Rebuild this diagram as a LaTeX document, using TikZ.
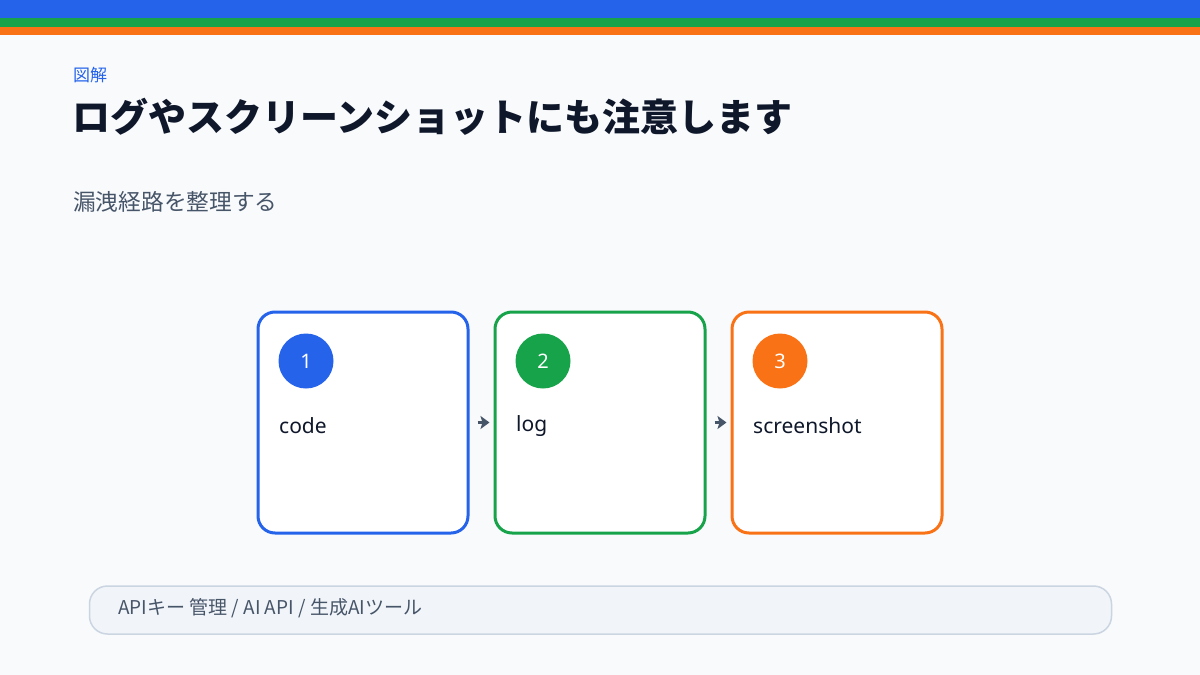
\documentclass[tikz,border=0pt]{standalone}
\usepackage{fontspec}
\setmainfont{Noto Sans CJK JP}
\newfontfamily\latinfont{Noto Sans}
\usetikzlibrary{arrows.meta}
\definecolor{bg}{HTML}{F8FAFC}
\definecolor{cblue}{HTML}{2563EB}
\definecolor{cgreen}{HTML}{16A34A}
\definecolor{corange}{HTML}{F97316}
\definecolor{ink}{HTML}{0F172A}
\definecolor{slate}{HTML}{475569}
\definecolor{barfill}{HTML}{F1F5F9}
\definecolor{barline}{HTML}{CBD5E1}
\tikzset{
  card/.style={draw=#1, line width=3pt, fill=white, rounded corners=17pt, minimum width=210pt, minimum height=221pt, inner sep=0pt},
  badge/.style={circle, fill=#1, minimum size=55pt, inner sep=0pt, text=white, font=\latinfont\fontsize{20pt}{24pt}\selectfont},
  cardlabel/.style={anchor=west, inner sep=0pt, text=ink, font=\latinfont\fontsize{21pt}{25pt}\selectfont},
  flow/.style={draw=slate, line width=3pt, -{Stealth[length=9pt,width=13pt,inset=2pt]}, shorten <=8pt, shorten >=4pt},
}
\begin{document}
\begin{tikzpicture}[x=1pt,y=-1pt]
\useasboundingbox (0,0) rectangle (1200,675);
\fill[bg] (0,0) rectangle (1200,675);
\fill[cblue] (0,0) rectangle (1200,18);
\fill[cgreen] (0,18) rectangle (1200,27);
\fill[corange] (0,27) rectangle (1200,35);
\node[anchor=west, inner sep=0pt, text=cblue, font=\fontsize{17pt}{20pt}\selectfont] (kicker) at (73,75) {図解};
\node[anchor=west, inner sep=0pt, text=ink, font=\fontsize{38pt}{44pt}\selectfont\bfseries] (title) at (72,117) {ログやスクリーンショットにも注意します};
\node[anchor=west, inner sep=0pt, text=slate, font=\fontsize{22.7pt}{26pt}\selectfont] (sub) at (73,202) {漏洩経路を整理する};
\node[card=cblue] (b1) at (363,422.5) {};
\node[card=cgreen] (b2) at (600,422.5) {};
\node[card=corange] (b3) at (837,422.5) {};
\node[badge=cblue] (c1) at (306,361) {1};
\node[badge=cgreen] (c2) at (543,361) {2};
\node[badge=corange] (c3) at (780,361) {3};
\node[cardlabel] (t1) at (279,426) {code};
\node[cardlabel] (t2) at (516,426) {log};
\node[cardlabel] (t3) at (753,426) {screenshot};
\draw[flow] (b1.east) -- (b2.west);
\draw[flow] (b2.east) -- (b3.west);
\node[draw=barline, line width=1.5pt, fill=barfill, rounded corners=18pt, minimum width=1022pt, minimum height=48pt, inner sep=0pt] (bar) at (600.5,610) {};
\node[anchor=west, inner sep=0pt, text=slate, font=\fontsize{19pt}{22pt}\selectfont] (bartext) at (118,608) {APIキー 管理 / AI API / 生成AIツール};
\end{tikzpicture}
\end{document}
